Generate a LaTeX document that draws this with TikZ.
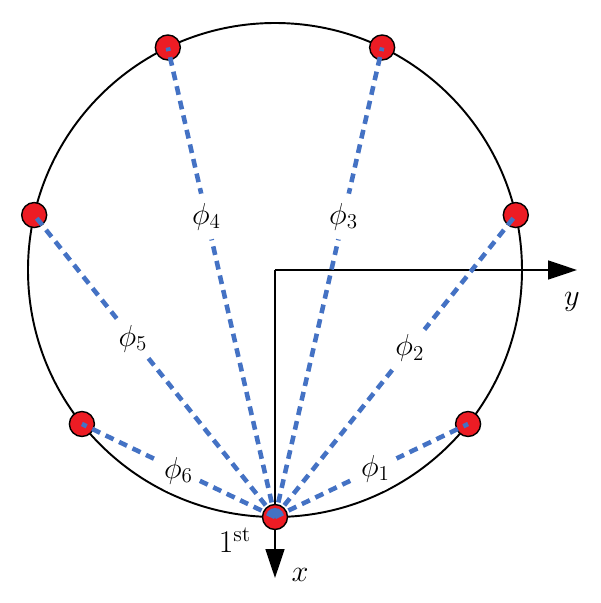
\documentclass[tikz,border=0pt]{standalone}
\usepackage{amsmath, amssymb}
\usepackage{tikz}
\usetikzlibrary{arrows.meta}
\usepackage{xcolor}
\definecolor{dotred}{RGB}{237,28,36}
\definecolor{linkblue}{RGB}{68,114,196}

\begin{document}
\begin{tikzpicture}[x=0.02cm, y=0.02cm, >={Triangle[length=0.58cm, width=0.38cm]},
  dot/.style={circle, draw=black, line width=0.8pt, fill=dotred, minimum size=0.5cm, inner sep=0pt},
  link/.style={linkblue, line width=2.6pt, dash pattern=on 5pt off 3.5pt},
  lab/.style={circle, fill=white, text=black, inner sep=1pt, font=\fontsize{18}{20}\selectfont}]
  \useasboundingbox (-275,-333) rectangle (325,270);
  \coordinate (o) at (0,0);
  \coordinate (xtip) at (0,-308);
  \coordinate (ytip) at (302,0);
  \draw[line width=1.1pt] (o) circle (247);
  \draw[line width=1pt, ->] (o) -- (ytip);
  \draw[line width=1pt, ->] (o) -- (xtip);
  \foreach \k in {0,...,6}
    \node[dot] (p\k) at ({-90+\k*360/7}:247) {};
  \foreach \k/\t in {1/0.52, 2/0.56, 3/0.64, 4/0.64, 5/0.59, 6/0.5}
    \draw[link] (p0.center) -- node[lab, inner sep=1.5pt, pos=\t] {$\phi_{\k}$} (p\k.center);
  \node[lab, fill=none] (first) at (-40,-270) {1\textsuperscript{st}};
  \node[lab, fill=none] (xlab) at (25,-305) {$x$};
  \node[lab, fill=none] (ylab) at (297,-32) {$y$};
\end{tikzpicture}
\end{document}
